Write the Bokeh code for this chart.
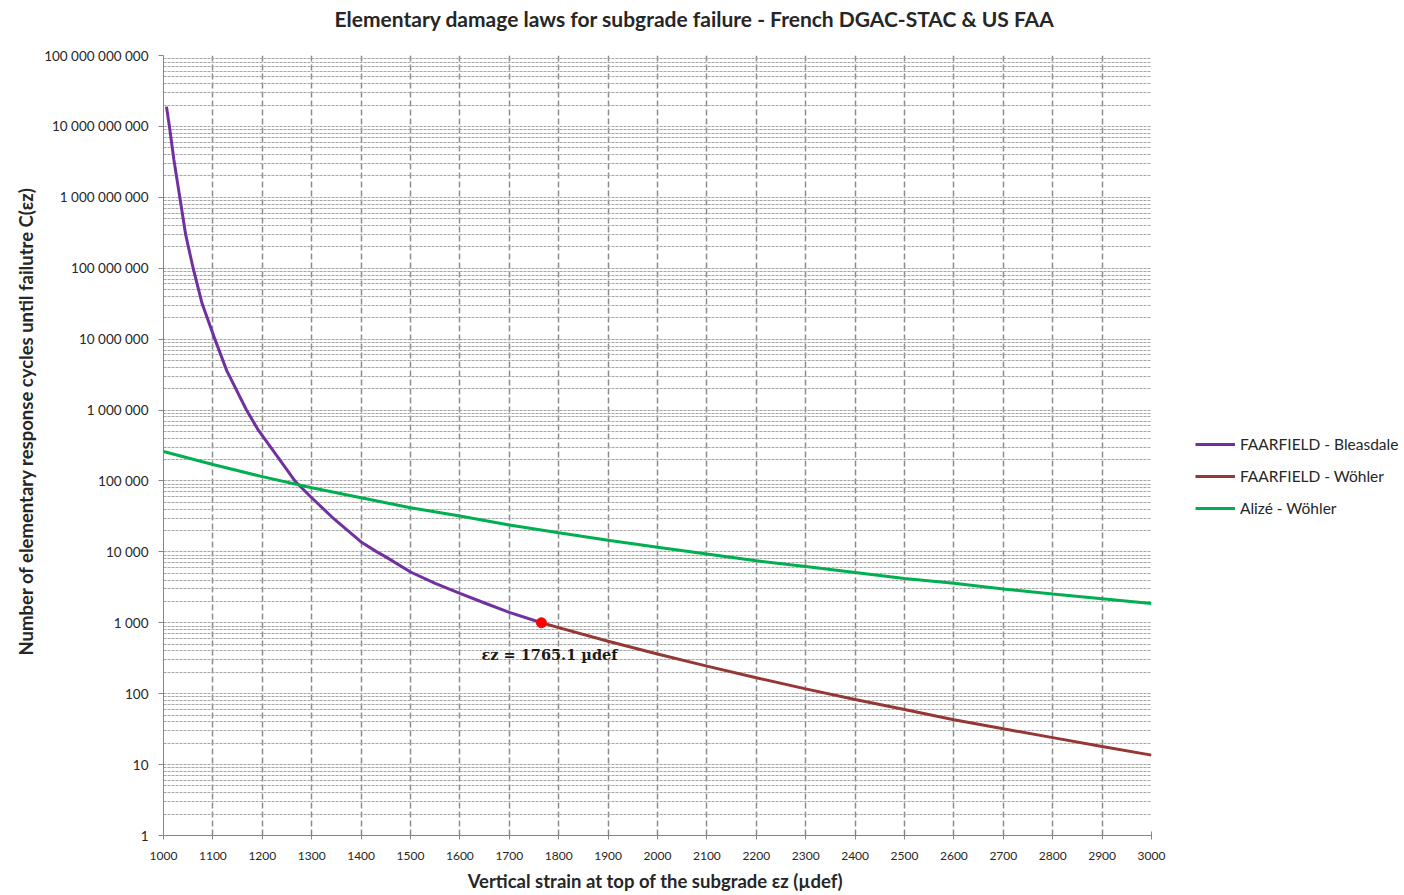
import numpy as np
from bokeh.plotting import figure
from bokeh.layouts import row
from bokeh.models import FixedTicker, Legend, LegendItem, Label, Title, Range1d
from bokeh.embed import file_html
from bokeh.resources import INLINE

# ---- data ----
strain_bleasdale = [1006, 1012, 1021, 1033, 1045, 1060, 1078, 1104, 1128, 1168, 1192, 1226,
                    1266, 1300, 1341, 1400, 1432, 1450, 1500, 1550, 1600, 1650, 1700, 1765.1]
cycles_bleasdale = [1.9e10, 1.0e10, 3.4e9, 1.0e9, 2.95e8, 1.0e8, 3.2e7, 1.0e7, 3.6e6, 1.0e6, 5.2e5, 2.45e5,
                    1.0e5, 5.8e4, 3.1e4, 1.38e4, 1.0e4, 8500, 5200, 3600, 2600, 1900, 1400, 1000]

strain_wohler = [1765.1, 1800, 1900, 2000, 2100, 2200, 2300, 2400, 2500, 2600, 2700, 2800, 2900, 3000]
cycles_wohler = [1000, 853, 550, 363, 245, 168, 117, 83, 60, 43, 32, 24, 18, 13.6]

strain_alize = [1000, 1100, 1200, 1300, 1400, 1500, 1600, 1700, 1800, 1900, 2000,
                2100, 2200, 2300, 2400, 2500, 2600, 2700, 2800, 2900, 3000]
cycles_alize = [260000, 171000, 115000, 80000, 58000, 42000, 32000, 24000, 18600, 14600, 11600,
                9300, 7500, 6200, 5100, 4200, 3600, 3000, 2550, 2180, 1870]

transition_strain = 1765.1
transition_cycles = 1000

x_ticks = list(range(1000, 3001, 100))
y_ticks = [1, 10, 100, 1e3, 1e4, 1e5, 1e6, 1e7, 1e8, 1e9, 1e10, 1e11]
y_tick_labels = ["1", "10", "100", "1 000", "10 000", "100 000", "1 000 000", "10 000 000",
                 "100 000 000", "1 000 000 000", "10 000 000 000", "100 000 000 000"]

series_names = ["FAARFIELD - Bleasdale", "FAARFIELD - Wöhler", "Alizé - Wöhler"]
series_colors = ["#7030A0", "#953735", "#00B050"]
series_strain = [strain_bleasdale, strain_wohler, strain_alize]
series_cycles = [cycles_bleasdale, cycles_wohler, cycles_alize]

FONT = "Lato"
TXT = "#262626"

p = figure(width=1175, height=895, y_axis_type="log", title=None,
           x_range=Range1d(1000, 3000), y_range=Range1d(1, 1e11),
           output_backend="svg", toolbar_location=None,
           min_border_left=163, min_border_right=24, min_border_top=55, min_border_bottom=60)
p.outline_line_color = None
p.background_fill_color = "white"

# title (a small spacer title sits between the main title and the frame)
p.add_layout(Title(text=" ", text_font_size="11px", text_font=FONT), "above")
p.add_layout(Title(text="Elementary damage laws for subgrade failure - French DGAC-STAC & US FAA",
                   align="left", offset=171, text_font=FONT, text_font_size="21px",
                   text_font_style="bold", text_color=TXT, standoff=0), "above")

# ticks
minor = [k * 10 ** i for i in range(11) for k in range(2, 10)]
p.yaxis.ticker = FixedTicker(ticks=y_ticks, minor_ticks=minor)
p.yaxis.major_label_overrides = {t: lab for t, lab in zip(y_ticks, y_tick_labels)}
p.xaxis.ticker = FixedTicker(ticks=x_ticks)

for ax in (p.xaxis, p.yaxis):
    ax.axis_line_color = "#868686"
    ax.major_tick_line_color = "#868686"
    ax.minor_tick_line_color = None
    ax.major_label_text_font = FONT
    ax.major_label_text_color = TXT
p.yaxis.major_label_text_font_size = "13.5px"
p.xaxis.major_label_text_font_size = "12px"
p.xaxis.major_tick_in = 4
p.xaxis.major_tick_out = 4
p.yaxis.major_tick_in = 0
p.yaxis.major_tick_out = 5
p.yaxis.major_label_standoff = 10
p.xaxis.major_label_standoff = 12

p.xaxis.axis_label = "Vertical strain at top of the subgrade  εz (µdef)"
p.xaxis.axis_label_text_font = FONT
p.xaxis.axis_label_text_font_size = "18.5px"
p.xaxis.axis_label_text_font_style = "bold"
p.xaxis.axis_label_text_color = TXT
p.xaxis.axis_label_standoff = 7

ylab = Title(text="Number of elementary response cycles until failutre C(εz)",
             align="left", offset=180, text_font=FONT, text_font_size="18.5px",
             text_font_style="bold", text_color=TXT, standoff=10)
p.add_layout(ylab, "left")

# grids
p.xgrid.grid_line_color = "#8c8c8c"
p.xgrid.grid_line_dash = "6 3"
p.xgrid.grid_line_width = 1.5
p.ygrid.grid_line_color = "#a6a6a6"
p.ygrid.grid_line_dash = "3 1"
p.ygrid.grid_line_width = 1
p.ygrid.minor_grid_line_color = "#a6a6a6"
p.ygrid.minor_grid_line_dash = "3 1"
p.ygrid.minor_grid_line_width = 1

# lines
for xs, ys, c in zip(series_strain, series_cycles, series_colors):
    p.line(xs, ys, line_color=c, line_width=3)
p.scatter([transition_strain], [transition_cycles], size=10, color="#FF0000")

lab = Label(x=transition_strain, y=transition_cycles, x_offset=8, y_offset=-32,
            text="εz = 1765.1 µdef", text_font="DejaVu Serif", text_font_style="bold",
            text_font_size="14.5px", text_color="#1a1a1a", text_align="center",
            text_baseline="middle")
p.add_layout(lab)

# legend panel to the right of the plot (its lines lie outside its own visible range)
q = figure(width=229, height=895, x_range=Range1d(0, 1), y_range=Range1d(0, 1),
           output_backend="svg", toolbar_location=None, min_border=0,
           x_axis_location=None, y_axis_location=None)
q.outline_line_color = None
q.xgrid.visible = False
q.ygrid.visible = False
legend_renderers = [q.line(xs, ys, line_color=c, line_width=3)
                    for xs, ys, c in zip(series_strain, series_cycles, series_colors)]
legend = Legend(items=[LegendItem(label=n, renderers=[r]) for n, r in zip(series_names, legend_renderers)],
                location=(20, 317), glyph_width=40, glyph_height=20, label_height=20,
                spacing=12, label_text_font=FONT, label_text_font_size="15.5px",
                label_text_color=TXT, background_fill_alpha=0, border_line_color=None,
                padding=0, margin=0, label_standoff=5)
q.add_layout(legend)

layout = row(p, q, spacing=0)
open("out.html", "w").write(file_html(layout, INLINE))
